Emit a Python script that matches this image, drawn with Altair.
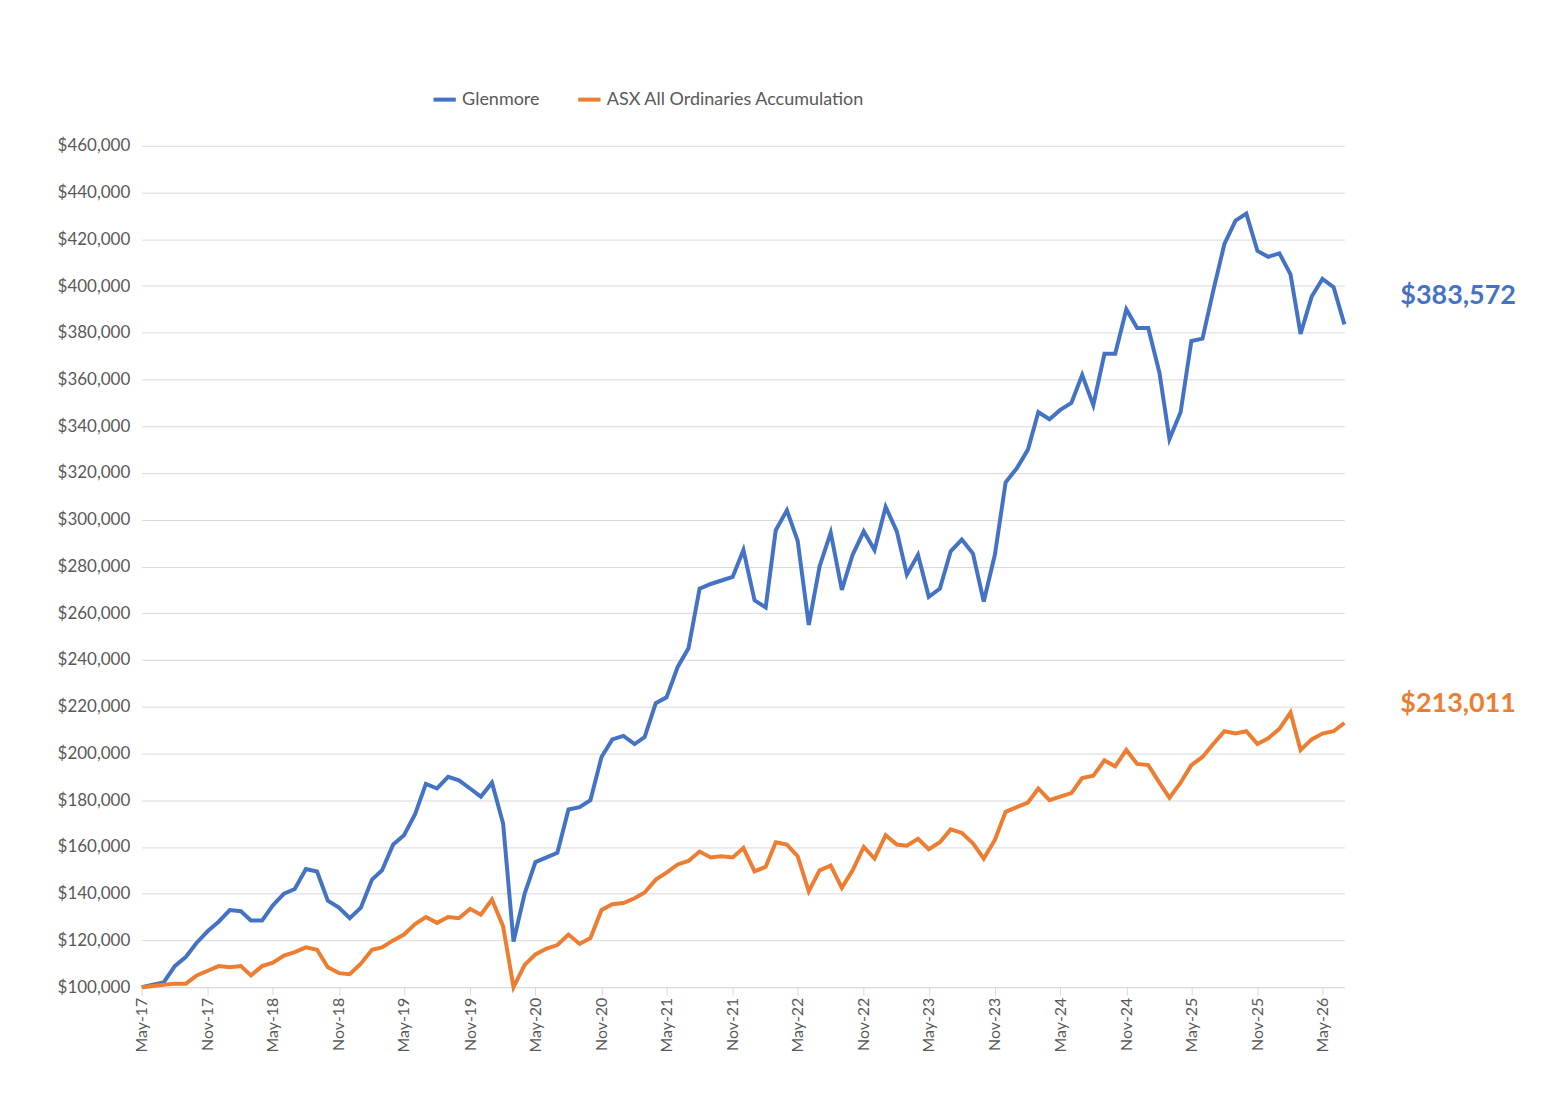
import pandas as pd
import altair as alt

months = pd.date_range('2017-05-01', periods=111, freq='MS').strftime('%Y-%m-%d').tolist()

glenmore = [100, 101, 102, 109, 113, 119, 124, 128, 133, 132.5, 128.5, 128.5, 135, 140, 142, 150.5,
            149.5, 137, 134, 129.5, 134, 146, 150, 161, 165, 174, 187, 185, 190, 188.5, 185, 181.5,
            187.5, 170, 119.5, 140, 153.5, 155.5, 157.5, 176, 177, 180, 198.5, 206, 207.5, 204, 207,
            221.5, 224, 237, 245, 270.5, 272.5, 274, 275.5, 287, 265.5, 262.5, 295.5, 304, 291, 255,
            280, 294.5, 270, 285, 295, 287, 305.5, 295, 276.5, 285, 267, 270.5, 286.5, 291.5, 285.5,
            265, 285, 316, 322, 330, 346, 343, 347, 350, 362, 349, 371, 371, 390, 382, 382, 363,
            334.5, 346, 376.5, 377.5, 398, 418, 428, 431, 415, 412.5, 414, 405, 379.5, 395.5, 403,
            399.5, 383.572]
asx = [100, 100.5, 101, 101.5, 101.5, 105, 107, 109, 108.5, 109, 105, 109, 110.5, 113.5, 115, 117,
       116, 108.5, 106, 105.5, 110, 116, 117, 120, 122.5, 127, 130, 127.5, 130, 129.5, 133.5, 131,
       137.5, 126, 100, 109.5, 114, 116.5, 118, 122.5, 118.5, 121, 133, 135.5, 136, 138, 140.5,
       146, 149, 152.5, 154, 158, 155.5, 156, 155.5, 159.5, 149.5, 151.5, 162, 161, 156, 141, 150,
       152, 142.5, 150, 160, 155, 165, 161, 160.5, 163.5, 159, 162, 167.5, 166, 161.5, 155, 163,
       175, 177, 179, 185, 180, 181.5, 183, 189.5, 190.5, 197, 194.5, 201.5, 195.5, 195, 187.5,
       181, 187.5, 195, 198.5, 204, 209.5, 208.5, 209.5, 204, 206.5, 210.5, 217.5, 201.5, 206,
       208.5, 209.5, 213.011]

series = ['Glenmore', 'ASX All Ordinaries Accumulation']
colors = ['#4472c4', '#ed7d31']

rows = []
for d, g, a in zip(months, glenmore, asx):
    rows.append({'date': d, 'series': series[0], 'value': g * 1000})
    rows.append({'date': d, 'series': series[1], 'value': a * 1000})
df = pd.DataFrame(rows)

tick_ms = [int(pd.Timestamp(d).value // 10**6) for d in months[::3]]
grey = '#595959'
font = 'Lato'

x = alt.X('date:T', title=None,
          scale=alt.Scale(type='utc', domain=[months[0], months[-1]], nice=False),
          axis=alt.Axis(values=tick_ms, labelExpr="utcFormat(datum.value, '%b-%y')",
                        labelAngle=270, labelAlign='right', labelBaseline='middle',
                        labelFontSize=16, labelOverlap=False, labelColor=grey, labelFont=font,
                        grid=False, domainColor='#d9d9d9', tickColor='#d9d9d9', tickSize=8,
                        labelPadding=2))
y = alt.Y('value:Q', title=None,
          scale=alt.Scale(domain=[100000, 460000], nice=False, zero=False),
          axis=alt.Axis(values=list(range(100000, 460001, 20000)), format='$,.0f',
                        labelFontSize=17, labelColor=grey, labelFont=font, gridColor='#d9d9d9',
                        domain=False, ticks=False, labelPadding=12))

lines = alt.Chart(df).mark_line(strokeWidth=4).encode(
    x=x, y=y,
    color=alt.Color('series:N', scale=alt.Scale(domain=series, range=colors),
                    legend=alt.Legend(title=None, orient='none', direction='horizontal',
                                      legendX=290, legendY=-60, symbolType='stroke',
                                      symbolStrokeWidth=4, symbolSize=500, labelFontSize=18,
                                      labelLimit=0, labelColor=grey, labelFont=font,
                                      columnPadding=30)),
)

last = df[df['date'] == months[-1]]
lab_g = alt.Chart(last[last['series'] == series[0]]).mark_text(
    align='left', dx=56, dy=-28, fontSize=27, fontWeight='bold', font=font, color=colors[0]
).encode(x='date:T', y='value:Q', text=alt.Text('value:Q', format='$,.0f'))
lab_a = alt.Chart(last[last['series'] == series[1]]).mark_text(
    align='left', dx=56, dy=-19, fontSize=27, fontWeight='bold', font=font, color=colors[1]
).encode(x='date:T', y='value:Q', text=alt.Text('value:Q', format='$,.0f'))

chart = alt.layer(lines, lab_g, lab_a).properties(
    width=1205, height=843,
    autosize=alt.AutoSizeParams(type='none'),
    padding={'left': 134, 'top': 137, 'right': 200, 'bottom': 100},
).configure_view(stroke=None)

chart.save("out.html", embed_options={"renderer": "svg", "actions": False})
